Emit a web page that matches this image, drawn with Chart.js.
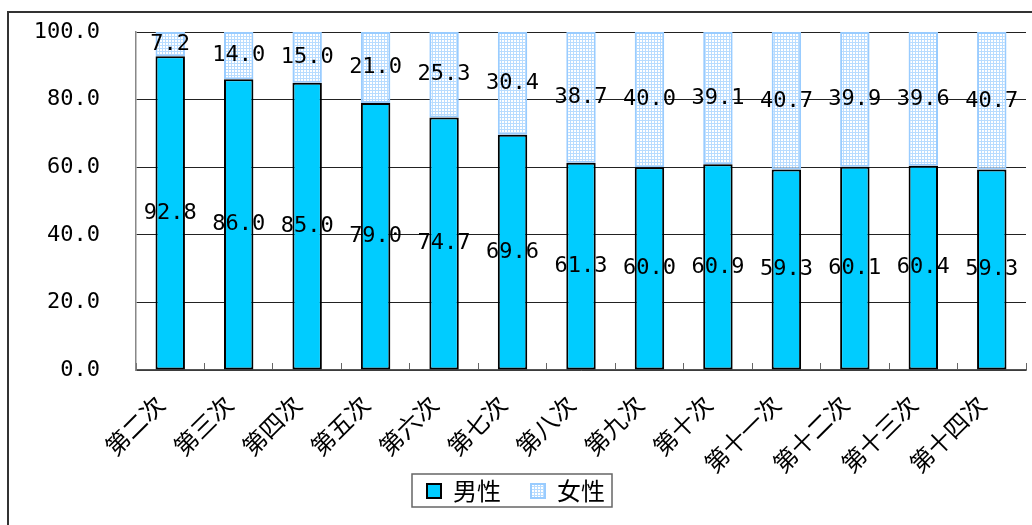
<!DOCTYPE html>
<html>
<head>
<meta charset="utf-8">
<script src="https://cdn.jsdelivr.net/npm/chart.js@4"></script>
<style>
    body { margin: 0; background: #fff; overflow: hidden; }
    #wrap { width: 1032px; height: 525px; }
</style>
</head>
<body>
<div id="wrap"><canvas id="ratio-chart" width="1032" height="525"></canvas></div>
<script>
// Data
const sessions = ['第二次', '第三次', '第四次', '第五次', '第六次', '第七次', '第八次',
                  '第九次', '第十次', '第十一次', '第十二次', '第十三次', '第十四次'];
const maleShare = [92.8, 86.0, 85.0, 79.0, 74.7, 69.6, 61.3, 60.0, 60.9, 59.3, 60.1, 60.4, 59.3];
const femaleShare = [7.2, 14.0, 15.0, 21.0, 25.3, 30.4, 38.7, 40.0, 39.1, 40.7, 39.9, 39.6, 40.7];
const yTicks = [0, 20, 40, 60, 80, 100];

const monoFont = '"DejaVu Sans Mono", monospace';
const cjkFont = '"Noto Sans CJK SC", sans-serif';

// Light blue dotted fill, like the old office pattern
function makeDotPattern() {
    const c = document.createElement('canvas');
    c.width = 3;
    c.height = 3;
    const g = c.getContext('2d');
    g.fillStyle = '#b8dcff';
    g.fillRect(0, 0, 3, 3);
    g.fillStyle = '#ffffff';
    g.fillRect(1, 1, 2, 2);
    return document.getElementById('ratio-chart').getContext('2d').createPattern(c, 'repeat');
}

// Frame around the whole chart (cut off at right and bottom)
const outerFrame = {
    id: 'outerFrame',
    beforeDraw(chart) {
        const ctx = chart.ctx;
        ctx.save();
        ctx.strokeStyle = '#333';
        ctx.lineWidth = 2;
        ctx.strokeRect(8, 12, 2000, 2000);
        ctx.restore();
    }
};

// Let the slanted labels hang below the axis box, lift the legend a bit
// and put a box round it
const legendBox = {
    id: 'legendBox',
    afterLayout(chart) {
        chart.scales.x.bottom = 490;
        const lg = chart.legend;
        lg.left += 3;
        lg.right += 3;
        lg.top -= 12;
        lg.bottom -= 12;
    },
    afterDraw(chart) {
        const lg = chart.legend;
        const mid = (lg.left + lg.right) / 2;
        const top = lg.top + lg.options.labels.padding;
        const ctx = chart.ctx;
        ctx.save();
        ctx.strokeStyle = '#666';
        ctx.lineWidth = 1.5;
        ctx.strokeRect(mid - 104, top - 5, 200, 33);
        ctx.restore();
    }
};

// Value labels in the middle of each segment
const segmentLabels = {
    id: 'segmentLabels',
    afterDatasetsDraw(chart) {
        const ctx = chart.ctx;
        ctx.save();
        ctx.font = '22px ' + monoFont;
        ctx.fillStyle = '#000';
        ctx.textAlign = 'center';
        ctx.textBaseline = 'middle';
        chart.data.datasets.forEach((ds, i) => {
            chart.getDatasetMeta(i).data.forEach((bar, j) => {
                const midY = (bar.y + bar.base) / 2;
                ctx.fillText(ds.data[j].toFixed(1), bar.x, midY);
            });
        });
        ctx.restore();
    }
};

function initializeChart() {
    const ctx = document.getElementById('ratio-chart').getContext('2d');

    new Chart(ctx, {
        type: 'bar',
        data: {
            labels: sessions,
            datasets: [{
                label: '男性',
                data: maleShare,
                backgroundColor: '#00ccff',
                borderColor: '#000',
                borderWidth: 2,
                borderSkipped: false
            }, {
                label: '女性',
                data: femaleShare,
                backgroundColor: makeDotPattern(),
                borderColor: '#99ccff',
                borderWidth: 2,
                borderSkipped: false
            }]
        },
        options: {
            responsive: false,
            animation: false,
            barPercentage: 0.43,
            categoryPercentage: 1,
            layout: {
                padding: { top: 32, right: 6, left: 0, bottom: 0 }
            },
            plugins: {
                legend: {
                    position: 'bottom',
                    labels: {
                        boxWidth: 14,
                        boxHeight: 14,
                        padding: 30,
                        color: '#000',
                        font: { family: cjkFont, size: 24 }
                    }
                },
                tooltip: { enabled: false }
            },
            scales: {
                x: {
                    stacked: true,
                    afterFit: scale => {
                        scale.height = 91;
                        scale.paddingLeft = 0;
                        scale.paddingRight = 0;
                    },
                    grid: {
                        drawOnChartArea: false,
                        tickLength: -7,
                        color: '#666'
                    },
                    border: { color: '#555', width: 1.5 },
                    ticks: {
                        minRotation: 45,
                        maxRotation: 45,
                        padding: 27,
                        labelOffset: -10,
                        color: '#000',
                        font: { family: cjkFont, size: 24 }
                    }
                },
                y: {
                    stacked: true,
                    min: 0,
                    max: 100,
                    afterFit: scale => { scale.width = 136; },
                    afterBuildTicks: scale => {
                        scale.ticks = yTicks.map(v => ({ value: v }));
                    },
                    grid: {
                        color: '#222',
                        tickLength: 36,
                        tickColor: 'rgba(0,0,0,0)'
                    },
                    border: { color: '#888', width: 1.5 },
                    ticks: {
                        padding: 0,
                        color: '#000',
                        font: { family: monoFont, size: 22 },
                        callback: value => Number(value).toFixed(1)
                    }
                }
            }
        },
        plugins: [outerFrame, legendBox, segmentLabels]
    });
}

document.addEventListener('DOMContentLoaded', initializeChart);
</script>
</body>
</html>
